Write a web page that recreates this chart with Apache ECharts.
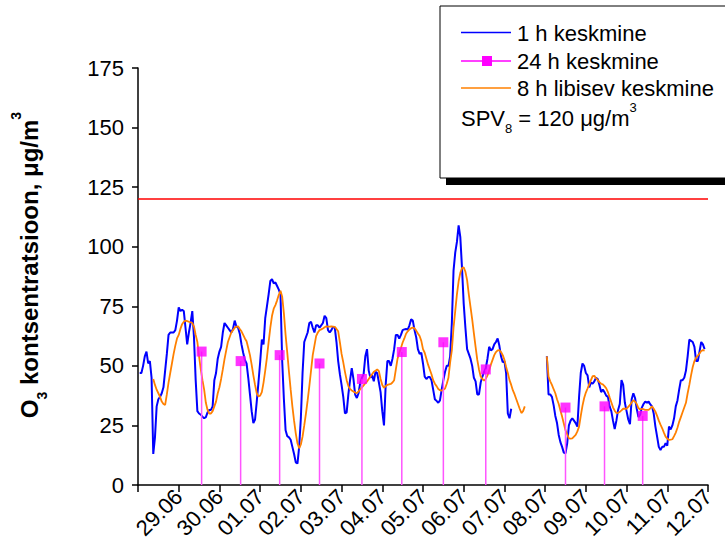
<!DOCTYPE html>
<html>
<head>
<meta charset="utf-8">
<script src="https://cdn.jsdelivr.net/npm/echarts@6/dist/echarts.min.js"></script>
<style>
html,body{margin:0;padding:0;background:#fff;}
#chart{width:725px;height:543px;}
</style>
</head>
<body>
<div id="chart"></div>
<script>
// ---- data (hours counted from the start of the plotted period) ----
const dateLabels = ['29.06','30.06','01.07','02.07','03.07','04.07','05.07','06.07','07.07','08.07','09.07','10.07','11.07','12.07'];

const hourlyStartA = 1;
const hourlyA = [
 47,47,50,54,56,51,52,45,13,20,
 33,36,37,38.5,41,48,55,63,64,64,
 64,65,69,74.5,73,73.5,73,66,59,64,
 68,73,62,44,31,30,29.5,28.7,28,28.5,
 30.5,31.5,31.5,33,44,47,53,56,58,64,
 68,67,66,65,64,65.5,69,66.5,66,63.5,
 59,55.5,52.5,51,45,38,31,26,27.5,35,
 43,51.5,61,59,70,75,80,85.6,86.4,84.6,
 85,83.5,82,80,52,36,23,20.5,20,19,
 16,13,9.5,9,16,28,47,60,62,64,
 68,68.5,66,64,67,67,66,67,68,71,
 70,65,64,65,66.4,66,60,52,46.5,42,
 37,30,30.5,38,44,49,44.5,38,36.5,38.5,
 43,45,46.5,54,57,48,45,46,43.5,47.5,
 47,43,39,31,25,42,52,52,50,53,
 57,63,63,61.5,63,65,65.3,65.5,65.2,67,
 69.5,69,65,62,57,55,55.5,51,45.5,44.5,
 45.3,45.3,44,40,36,35.3,34.5,35.5,40,44,
 47.5,50,50,54,68,90,97.5,102,109,104,
 91,76,66,57,55,53,50,45,43.5,38,
 38,43,45.5,47.5,49,53,58,56.5,57,59,
 60,61.5,58.5,54,51.5,52,47,30,28,32
];
const hourlyStartB = 241;
const hourlyB = [
 54,38,38,37,33.5,29,26,21,18,16,
 13.6,13.3,17.5,25,27,28,27,26,24.5,37,
 47,51,50,47,46,41,43,42.5,43.5,45,
 44.5,42,39,40,39,37.5,37,33,31,27,
 23.5,27,31.5,34,44,42,34.5,31,27.5,25.5,
 36,38.5,36.5,32,28.5,29.5,32.5,34,35,34.5,
 35,33.8,33,30,24.5,20.3,16,14.7,16,16,
 17.5,16.5,24.5,23.3,25,28,33,35.5,40,44,
 44,45,48,54,61,60.5,60,58,52,52,
 56,60,59,57
];

const movingStartA = 9;
const movingA = [
 44.5,42,40,38.5,37,35,34,33.6,38,43,
 47,51,55,58.5,61.5,63,65.5,67.5,68.5,69,
 68.8,68.5,68.3,68,66.5,63,60,54,48.5,44,
 40,34.5,31.5,30,30,31,33,35,38.5,41,
 44.5,48.5,52.8,56.5,60,62,64,65,66,66.5,
 66.6,65.5,64.5,63,61.5,60.3,57.5,54.5,50.5,46,
 42,38.5,37.2,37.5,39,43,48,53.5,60,66,
 71,74,75.5,77.5,79.8,81.5,79,72,63,55.5,
 47.5,40,33,27,21.7,17.5,15.4,17,20.3,25,
 30,35.5,41.5,48,54.5,58.5,62.5,64,65,65.3,
 65.7,66.2,66.6,66.5,66.5,66.6,66.5,66.4,65.5,64.5,
 60,55,51.5,47.5,44,41.5,40.3,39.7,39.2,38.8,
 38.5,39.3,40.2,41,41.8,42.7,43.4,44.5,45.5,46.5,
 47.5,48,48.5,47.8,44.5,42,40.8,41.5,42,42.2,
 42.4,43,44,48.5,53,55.5,57.5,59.8,61.5,63.5,
 64.5,65.3,65.8,66,65.8,64.8,63.6,62.5,60.5,57,
 55.5,53,50.5,48.5,46.5,44,42.5,41.5,40.3,39.8,
 39.6,40,40.5,42.5,45,51.5,56.5,66,73,80,
 85.5,89,91,91.3,89.5,86,80,74.8,69.5,63.6,
 58,52.5,48.5,45.5,44.5,43.8,44.5,46,48,50.5,
 52.5,54.5,55.8,56.5,56.6,55.8,54.5,52.5,49.5,47,
 44,42,39.7,38,36,34,32,30.2,31,33
];
const movingStartB = 241;
const movingB = [
 54,45.5,43.5,42,40.2,38.5,36,34,31.3,28.7,
 25.8,23,21.2,19.6,19.5,19.6,20.3,21,22.5,24.5,
 29,33.2,36.5,38.8,40.5,42.3,44,45.7,45.8,44.8,
 44,43.2,42.5,42.2,41.5,40.6,39,36.8,34.7,32.6,
 31.2,30.2,30.3,30.7,31.3,32,32,32,32.8,33.6,
 34.6,35.6,35,34,32.3,31.7,32,31.8,31.5,31.5,
 31.5,32.2,33,32,30.8,29,27,25.3,23.8,22,
 20.3,19.5,18.9,19,19.2,20.5,22,24,26.5,28.5,
 30.5,32.5,34.5,38.5,42,46,49.5,52,53.5,54.3,
 55.2,56.2,56.6,56.4
];

const dailyHours  = [37.5, 60.5, 83.5, 107, 132, 155.5, 180, 205, 252, 275, 297.5];
const dailyValues = [56, 52, 54.5, 51, 44.5, 55.8, 59.9, 48.5, 32.5, 33, 29];

const limitValue = 120;
const totalHours = 336;

// ---- build series data ----
function segmentPairs(start, values) {
  return values.map((v, i) => [start + i, v]);
}
const hourlyData = segmentPairs(hourlyStartA, hourlyA)
  .concat([[hourlyStartA + hourlyA.length, null]])
  .concat(segmentPairs(hourlyStartB, hourlyB));
const movingData = segmentPairs(movingStartA, movingA)
  .concat([[movingStartA + movingA.length, null]])
  .concat(segmentPairs(movingStartB, movingB));
const dailyData = dailyHours.map((h, i) => [h, dailyValues[i]]);

const FONT = 'Liberation Sans, Arial, Helvetica, sans-serif';
const chart = echarts.init(document.getElementById('chart'), null, {renderer: 'svg'});

chart.setOption({
  animation: false,
  backgroundColor: '#fff',
  grid: {left: 138, right: 17, top: 68, bottom: 58, containLabel: false},
  xAxis: {
    type: 'value', min: 0, max: totalHours, interval: 24,
    axisLine: {show: true, onZero: false, lineStyle: {color: '#000', width: 1.5}},
    axisTick: {show: true, inside: false, length: 7, lineStyle: {color: '#000', width: 1.5}},
    splitLine: {show: false},
    axisLabel: {
      rotate: 45, margin: 8, fontSize: 22, color: '#000', fontFamily: FONT,
      showMinLabel: true, showMaxLabel: true,
      formatter: v => (v === 0 ? '' : (dateLabels[v / 24 - 1] || ''))
    }
  },
  yAxis: {
    type: 'value', min: 0, max: 175, interval: 25,
    axisLine: {show: true, lineStyle: {color: '#000', width: 1.5}},
    axisTick: {show: true, inside: false, length: 6, lineStyle: {color: '#000', width: 1.5}},
    splitLine: {show: false},
    axisLabel: {margin: 14, fontSize: 22, color: '#000', fontFamily: FONT}
  },
  series: [
    {
      name: '1 h keskmine', type: 'line', data: hourlyData, showSymbol: false,
      connectNulls: false, z: 2,
      lineStyle: {color: '#0000ff', width: 2},
      itemStyle: {color: '#0000ff'},
      markLine: {
        silent: true, symbol: ['none', 'none'],
        label: {show: false},
        lineStyle: {color: '#ff0000', width: 1.5, type: 'solid'},
        data: [{yAxis: limitValue}]
      }
    },
    {
      name: '8 h libisev keskmine', type: 'line', data: movingData, showSymbol: false,
      connectNulls: false, z: 3,
      lineStyle: {color: '#ff8000', width: 1.8},
      itemStyle: {color: '#ff8000'}
    },
    {
      name: '24 h drop', type: 'custom', data: dailyData, z: 4,
      renderItem: function (params, api) {
        const p0 = api.coord([api.value(0), 0]);
        const p1 = api.coord([api.value(0), api.value(1)]);
        return {type: 'line', shape: {x1: p0[0], y1: p0[1], x2: p1[0], y2: p1[1]},
                style: {stroke: '#ff55ff', lineWidth: 1.5}};
      }
    },
    {
      name: '24 h keskmine', type: 'scatter', data: dailyData, z: 5,
      symbol: 'rect', symbolSize: 10,
      itemStyle: {color: '#ff00ff'}
    }
  ],
  graphic: [
    {type: 'text', x: 29, y: 265, rotation: Math.PI / 2, z: 10,
     style: {
       text: '{b|O}{s|3}{b| kontsentratsioon, μg/m}{p|3}',
       align: 'center', verticalAlign: 'middle',
       rich: {
         b: {fontSize: 24, fontWeight: 'bold', fontFamily: FONT, fill: '#000', lineHeight: 40, verticalAlign: 'middle'},
         s: {fontSize: 14, fontWeight: 'bold', fontFamily: FONT, fill: '#000', lineHeight: 16, verticalAlign: 'bottom'},
         p: {fontSize: 14, fontWeight: 'bold', fontFamily: FONT, fill: '#000', lineHeight: 16, verticalAlign: 'top'}
       }
     }},
    {type: 'rect', z: 20, shape: {x: 446, y: 12, width: 300, height: 173}, style: {fill: '#000'}},
    {type: 'rect', z: 21, shape: {x: 440, y: 6, width: 300, height: 172}, style: {fill: '#fff', stroke: '#000', lineWidth: 1}},
    {type: 'line', z: 22, shape: {x1: 461, y1: 32.5, x2: 511, y2: 32.5}, style: {stroke: '#0000ff', lineWidth: 1.5}},
    {type: 'text', z: 22, x: 517, y: 33, style: {text: '1 h keskmine', fontSize: 22, fontFamily: FONT, fill: '#000', verticalAlign: 'middle'}},
    {type: 'line', z: 22, shape: {x1: 461, y1: 61, x2: 511, y2: 61}, style: {stroke: '#ff00ff', lineWidth: 1.5}},
    {type: 'rect', z: 23, shape: {x: 482, y: 56, width: 10, height: 10}, style: {fill: '#ff00ff'}},
    {type: 'text', z: 22, x: 517, y: 61, style: {text: '24 h keskmine', fontSize: 22, fontFamily: FONT, fill: '#000', verticalAlign: 'middle'}},
    {type: 'line', z: 22, shape: {x1: 461, y1: 88, x2: 511, y2: 88}, style: {stroke: '#ff8000', lineWidth: 1.5}},
    {type: 'text', z: 22, x: 517, y: 88, style: {text: '8 h libisev keskmine', fontSize: 22, fontFamily: FONT, fill: '#000', verticalAlign: 'middle'}},
    {type: 'text', z: 22, x: 461, y: 118,
     style: {
       text: '{n|SPV}{s|8}{n| = 120 μg/m}{p|3}',
       verticalAlign: 'middle', align: 'left',
       rich: {
         n: {fontSize: 22, fontFamily: FONT, fill: '#000', lineHeight: 34, verticalAlign: 'middle'},
         s: {fontSize: 13, fontFamily: FONT, fill: '#000', lineHeight: 13, verticalAlign: 'bottom'},
         p: {fontSize: 13, fontFamily: FONT, fill: '#000', lineHeight: 13, verticalAlign: 'top'}
       }
     }}
  ]
});
</script>
</body>
</html>
